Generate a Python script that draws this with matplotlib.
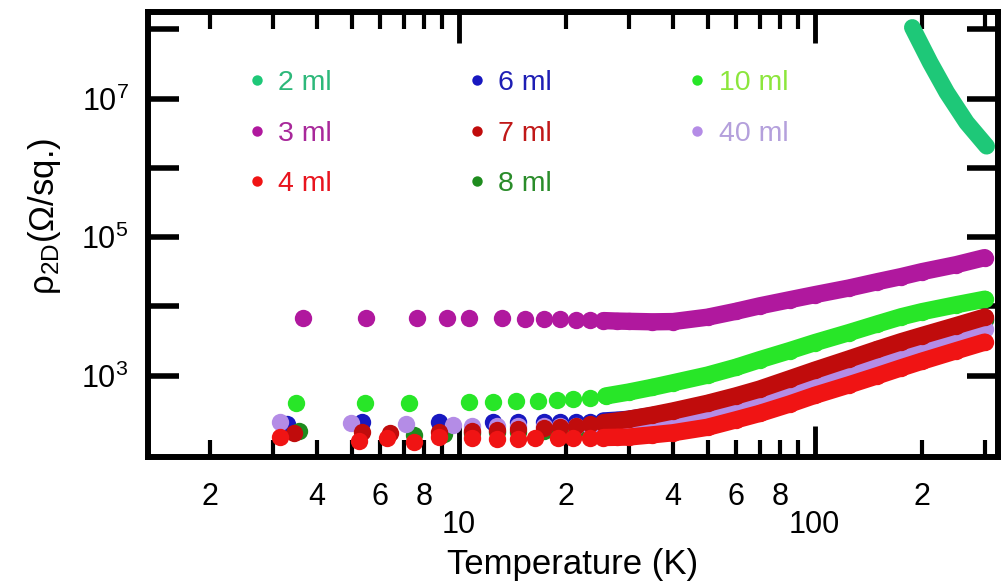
import numpy as np
import matplotlib
matplotlib.use("Agg")
import matplotlib.pyplot as plt
from matplotlib.lines import Line2D
from matplotlib.ticker import FixedLocator, FixedFormatter, NullLocator

plt.rcParams['font.family'] = ['Liberation Sans', 'DejaVu Sans']
plt.rcParams['mathtext.fontset'] = 'custom'
plt.rcParams['mathtext.rm'] = 'Liberation Sans'
plt.rcParams['mathtext.it'] = 'Liberation Sans:italic'

# values (T in K, rho in Ohm/sq)
T_dense = [30, 35, 40, 50, 60, 70, 85, 100, 125, 150, 175, 200, 250, 300]

T_2ml = [188, 211, 235, 267, 304]
R_2ml = [1.07e8, 3.33e7, 1.23e7, 4.53e6, 2.06e6]

T_3ml = [3.66, 5.49, 7.63, 9.28, 10.7, 13.2, 15.3, 17.3, 19.2, 21.4, 23.3, 25.5, 27.9] + T_dense
R_3ml = [6900, 6900, 6850, 6800, 6750, 6700, 6650, 6550, 6500, 6400, 6300, 6250, 6150,
         6100, 6000, 6050, 7000, 8500, 10200, 12500, 14800, 18500, 22800, 27000, 31800, 40200, 50700]

T_4ml = [3.14, 5.26, 6.28, 7.50, 8.80, 10.9, 12.8, 14.7, 16.4, 19.0, 21.0, 23.3, 25.5, 27.9] + T_dense
R_4ml = [130, 115, 125, 110, 130, 125, 123, 123, 124, 125, 126, 127, 128, 129,
         130, 140, 150, 180, 230, 285, 390, 520, 740, 1000, 1300, 1620, 2300, 3050]

T_6ml = [3.30, 5.35, 8.80, 12.5, 14.7, 17.3, 19.2, 21.4, 23.3, 25.5, 27.9] + T_dense
R_6ml = [200, 215, 215, 215, 212, 212, 213, 215, 218, 222, 228,
         235, 265, 300, 380, 480, 600, 840, 1120, 1650, 2250, 2900, 3600, 5000, 6600]

T_7ml = [3.44, 5.35, 6.39, 8.80, 10.9, 12.8, 14.7, 17.3, 19.2, 21.4, 23.3, 25.5, 27.9] + T_dense
R_7ml = [150, 155, 150, 155, 160, 165, 170, 175, 180, 190, 200, 210, 222,
         235, 270, 310, 400, 510, 640, 900, 1200, 1750, 2400, 3100, 3800, 5300, 7000]

T_8ml = [3.56, 7.50, 9.11, 10.9, 12.8, 14.7, 17.3, 19.2, 21.4, 23.3, 25.5, 27.9] + T_dense
R_8ml = [160, 140, 145, 150, 152, 155, 158, 162, 167, 172, 178, 185,
         195, 220, 250, 330, 420, 530, 730, 980, 1450, 2000, 2650, 3300, 4700, 6300]

T_10ml = [3.50, 5.45, 7.24, 10.7, 12.5, 14.5, 16.7, 18.9, 21.0, 23.3, 25.9] + T_dense
R_10ml = [410, 410, 410, 415, 420, 425, 435, 445, 460, 480, 510,
          580, 680, 790, 1020, 1320, 1700, 2300, 3000, 4200, 5600, 7100, 8400, 10600, 12700]

T_40ml = [3.14, 4.99, 7.11, 9.62, 10.9, 12.8, 14.7, 17.3, 19.2, 21.4, 23.3, 25.5, 27.9] + T_dense
R_40ml = [215, 205, 200, 195, 190, 188, 186, 186, 187, 188, 190, 193, 197,
          200, 210, 225, 260, 320, 390, 520, 680, 1000, 1400, 1850, 2350, 3400, 4700]

labels = ['2 ml', '3 ml', '4 ml', '6 ml', '7 ml', '8 ml', '10 ml', '40 ml']
colors = ['#1ec878', '#b0189e', '#f01414', '#1818c0', '#c00c0c', '#1e8c1e', '#28e628', '#b48ce6']
text_colors = ['#2db87a', '#a8289a', '#e8141e', '#1e1eb4', '#c01818', '#2a8c2a', '#8ce63c', '#b4a0dc']

fig = plt.figure(figsize=(10.01, 5.84), dpi=100)
ax = fig.add_axes([0.1479, 0.2175, 0.849, 0.762])

# drawing order, bottom to top
order = [
    (T_10ml, R_10ml, colors[6]),
    (T_3ml, R_3ml, colors[1]),
    (T_6ml, R_6ml, colors[3]),
    (T_8ml, R_8ml, colors[5]),
    (T_40ml, R_40ml, colors[7]),
    (T_7ml, R_7ml, colors[4]),
    (T_4ml, R_4ml, colors[2]),
]
ms = 12.5
for T, R, c in order:
    T = np.array(T)
    R = np.array(R)
    ax.plot(T, R, 'o', ms=ms, color=c, mec='none')
    d = T >= 25
    ax.plot(T[d], R[d], '-', lw=ms, color=c, solid_capstyle='round', solid_joinstyle='round')

ax.plot(T_2ml, R_2ml, '-', lw=12, color=colors[0], solid_capstyle='round', solid_joinstyle='round')

ax.set_xscale('log')
ax.set_yscale('log')
ax.set_xlim(1.34, 327)
ax.set_ylim(67, 1.79e8)

ax.xaxis.set_major_locator(FixedLocator([10, 100]))
ax.xaxis.set_major_formatter(FixedFormatter(['10', '100']))
minor = [2, 3, 4, 5, 6, 7, 8, 9, 20, 30, 40, 50, 60, 70, 80, 90, 200, 300]
minor_lab = ['2', '', '4', '', '6', '', '8', '', '2', '', '4', '', '6', '', '8', '', '2', '']
ax.xaxis.set_minor_locator(FixedLocator(minor))
ax.xaxis.set_minor_formatter(FixedFormatter(minor_lab))

ax.yaxis.set_major_locator(FixedLocator([1e3, 1e4, 1e5, 1e6, 1e7, 1e8]))
ax.yaxis.set_major_formatter(FixedFormatter(['$10^3$', '', '$10^5$', '', '$10^7$', '']))
ax.yaxis.set_minor_locator(NullLocator())

ax.tick_params(axis='x', which='major', direction='in', length=22, width=3.5, pad=38,
               labelsize=22, top=True)
ax.tick_params(axis='x', which='minor', direction='in', length=12, width=3, pad=18,
               labelsize=22, top=True)
ax.tick_params(axis='y', direction='in', length=22, width=4, pad=14, labelsize=22, right=True)
for s in ax.spines.values():
    s.set_linewidth(4.3)

ax.set_xlabel('Temperature (K)', fontsize=25, labelpad=6)
ax.set_ylabel('$\\mathrm{ρ}_{\\mathrm{2D}}$(Ω/sq.)', fontsize=25)
ax.yaxis.set_label_coords(-0.1, 0.54)

handles = [Line2D([0], [0], ls='none', marker='o', ms=7.5, color=c, mec='none') for c in colors]
leg = ax.legend(handles, labels, ncol=3, loc='upper left', bbox_to_anchor=(0.116, 0.87),
                frameon=False, fontsize=20.5, handlelength=0.7, handletextpad=0.4,
                columnspacing=4.75, labelspacing=0.87, borderaxespad=0, borderpad=0)
for t, c in zip(leg.get_texts(), text_colors):
    t.set_color(c)

fig.savefig('out.png', dpi=100)
